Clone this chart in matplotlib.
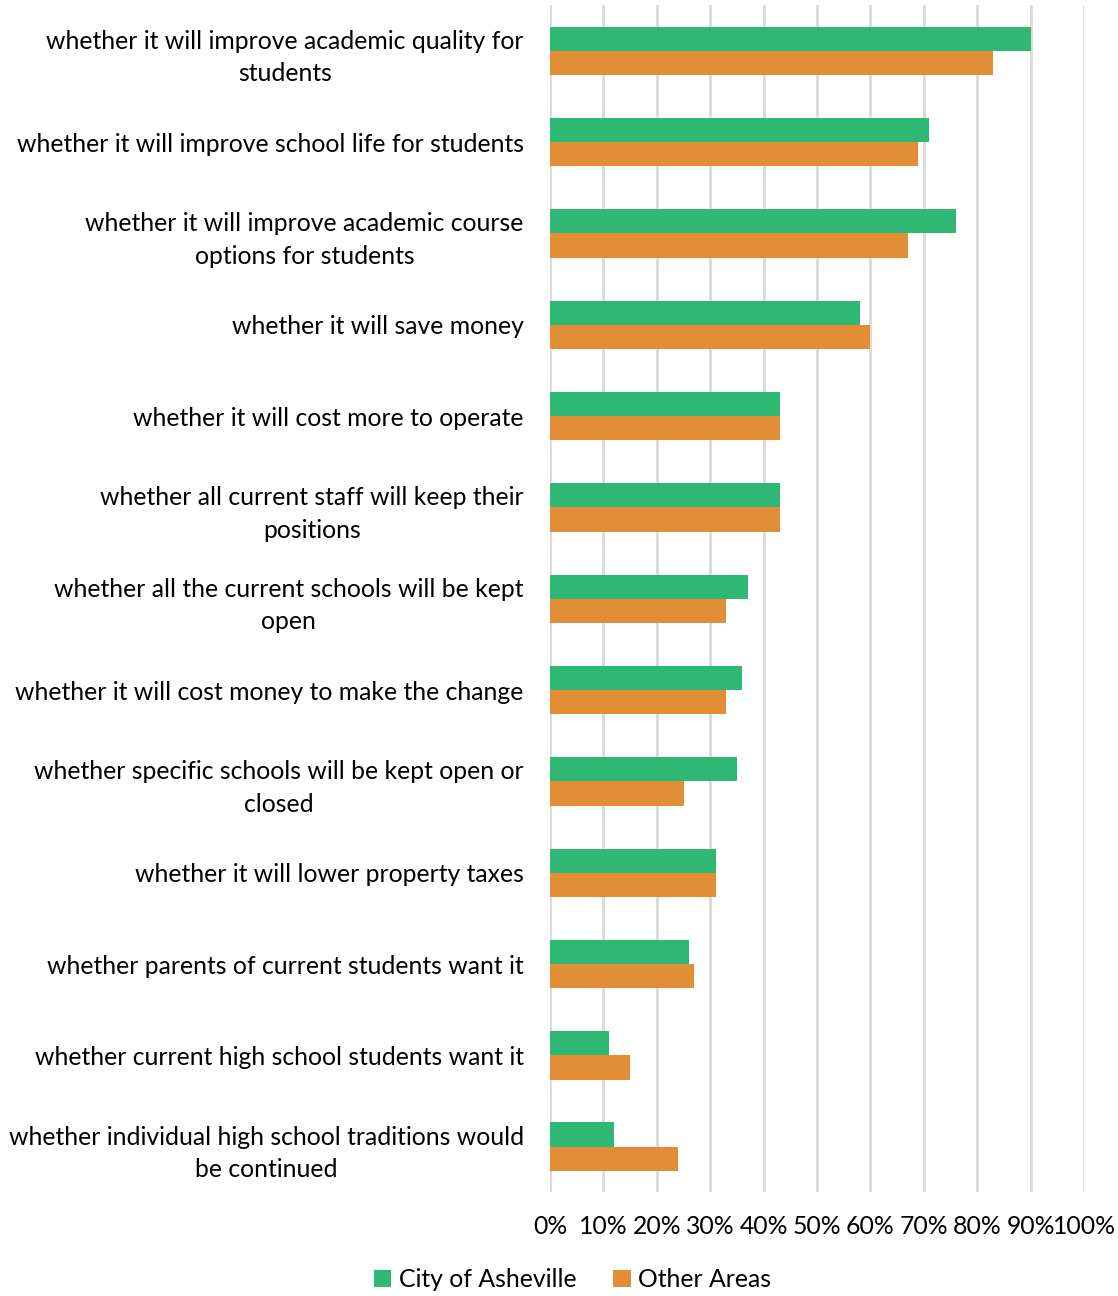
import numpy as np
import matplotlib.pyplot as plt
from matplotlib.ticker import PercentFormatter

categories = [
    "whether it will improve academic quality for\nstudents",
    "whether it will improve school life for students",
    "whether it will improve academic course\noptions for students",
    "whether it will save money",
    "whether it will cost more to operate",
    "whether all current staff will keep their\npositions",
    "whether all the current schools will be kept\nopen",
    "whether it will cost money to make the change",
    "whether specific schools will be kept open or\nclosed",
    "whether it will lower property taxes",
    "whether parents of current students want it",
    "whether current high school students want it",
    "whether individual high school traditions would\nbe continued",
]
asheville = [90, 71, 76, 58, 43, 43, 37, 36, 35, 31, 26, 11, 12]
other_areas = [83, 69, 67, 60, 43, 43, 33, 33, 25, 31, 27, 15, 24]

green = "#2FB874"
orange = "#E18E36"

plt.rcParams["font.family"] = ["Lato", "DejaVu Sans"]

fig = plt.figure(figsize=(11.18, 12.96), dpi=100)
ax = fig.add_axes([0.492, 0.080, 0.4776, 0.916])

y = np.arange(len(categories))
h = 0.265
ax.barh(y - h / 2, asheville, height=h, color=green, label="City of Asheville", zorder=3)
ax.barh(y + h / 2, other_areas, height=h, color=orange, label="Other Areas", zorder=3)

ax.set_xlim(0, 100)
ax.set_ylim(len(categories) - 0.5, -0.5)
ax.set_xticks(np.arange(0, 101, 10))
ax.xaxis.set_major_formatter(PercentFormatter(decimals=0))
ax.set_yticks(y)
ax.set_yticklabels(categories, ha="right", multialignment="center",
                   fontsize=17.8, linespacing=1.5)
ax.tick_params(axis="y", length=0, pad=19)
ax.tick_params(axis="x", length=0, pad=16, labelsize=17.8)
ax.grid(axis="x", color="#D9D9D9", linewidth=2, zorder=0)
for s in ax.spines.values():
    s.set_visible(False)

fig.legend(loc="center", bbox_to_anchor=(0.512, 0.0125), ncol=2, frameon=False,
           fontsize=17.8, handlelength=0.7, handleheight=0.7, handletextpad=0.3,
           columnspacing=1.5)

fig.savefig("out.png", dpi=100)
